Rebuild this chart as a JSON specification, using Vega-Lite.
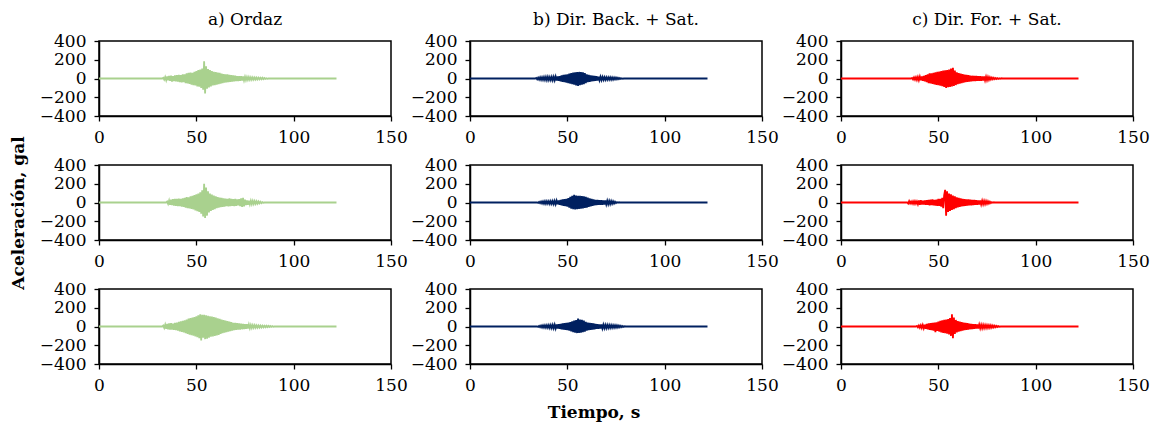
{
"$schema":"https://vega.github.io/schema/vega-lite/v6.json",
"padding":{"left":10,"top":11,"right":5,"bottom":2},
"bounds":"flush",
"config":{"font":"DejaVu Serif","view":{"stroke":"black","strokeWidth":1.5},
"axis":{"grid":false,"domainColor":"black","domainWidth":1.5,"tickColor":"black","tickWidth":1.3,"tickSize":5,"labelColor":"black","labelFont":"DejaVu Serif","labelFontSize":17,"labelFlush":false,"labelOverlap":false,"labelPadding":8},
"header":{"labelFont":"DejaVu Serif","titleFont":"DejaVu Serif","labelColor":"black","titleColor":"black"}},
"data":{"values":[
{"c":"a","r":1,"t":0,"a":0},{"c":"a","r":1,"t":32.5,"a":0},{"c":"a","r":1,"t":33,"a":8},{"c":"a","r":1,"t":33.5,"a":-12},{"c":"a","r":1,"t":34,"a":15},{"c":"a","r":1,"t":34.5,"a":-18},{"c":"a","r":1,"t":35,"a":22},{"c":"a","r":1,"t":35.5,"a":-20},{"c":"a","r":1,"t":36,"a":28},{"c":"a","r":1,"t":36.5,"a":-25},{"c":"a","r":1,"t":37,"a":30},{"c":"a","r":1,"t":37.5,"a":-32},{"c":"a","r":1,"t":38,"a":25},{"c":"a","r":1,"t":38.5,"a":-28},{"c":"a","r":1,"t":39,"a":33},{"c":"a","r":1,"t":39.5,"a":-30},{"c":"a","r":1,"t":40,"a":35},{"c":"a","r":1,"t":40.5,"a":-32},{"c":"a","r":1,"t":41,"a":38},{"c":"a","r":1,"t":41.5,"a":-40},{"c":"a","r":1,"t":42,"a":35},{"c":"a","r":1,"t":42.5,"a":-42},{"c":"a","r":1,"t":43,"a":45},{"c":"a","r":1,"t":43.5,"a":-40},{"c":"a","r":1,"t":44,"a":45},{"c":"a","r":1,"t":44.5,"a":-50},{"c":"a","r":1,"t":45,"a":55},{"c":"a","r":1,"t":45.5,"a":-52},{"c":"a","r":1,"t":46,"a":60},{"c":"a","r":1,"t":46.5,"a":-58},{"c":"a","r":1,"t":47,"a":62},{"c":"a","r":1,"t":47.5,"a":-65},{"c":"a","r":1,"t":48,"a":60},{"c":"a","r":1,"t":48.5,"a":-70},{"c":"a","r":1,"t":49,"a":72},{"c":"a","r":1,"t":49.5,"a":-75},{"c":"a","r":1,"t":50,"a":80},{"c":"a","r":1,"t":50.5,"a":-85},{"c":"a","r":1,"t":51,"a":90},{"c":"a","r":1,"t":51.5,"a":-88},{"c":"a","r":1,"t":52,"a":95},{"c":"a","r":1,"t":52.5,"a":-100},{"c":"a","r":1,"t":53,"a":105},{"c":"a","r":1,"t":53.5,"a":-120},{"c":"a","r":1,"t":54,"a":185},{"c":"a","r":1,"t":54.5,"a":-160},{"c":"a","r":1,"t":55,"a":130},{"c":"a","r":1,"t":55.5,"a":-110},{"c":"a","r":1,"t":56,"a":100},{"c":"a","r":1,"t":56.5,"a":-95},{"c":"a","r":1,"t":57,"a":90},{"c":"a","r":1,"t":57.5,"a":-85},{"c":"a","r":1,"t":58,"a":80},{"c":"a","r":1,"t":58.5,"a":-75},{"c":"a","r":1,"t":59,"a":72},{"c":"a","r":1,"t":59.5,"a":-70},{"c":"a","r":1,"t":60,"a":68},{"c":"a","r":1,"t":60.5,"a":-65},{"c":"a","r":1,"t":61,"a":62},{"c":"a","r":1,"t":61.5,"a":-60},{"c":"a","r":1,"t":62,"a":60},{"c":"a","r":1,"t":62.5,"a":-55},{"c":"a","r":1,"t":63,"a":52},{"c":"a","r":1,"t":63.5,"a":-50},{"c":"a","r":1,"t":64,"a":48},{"c":"a","r":1,"t":64.5,"a":-45},{"c":"a","r":1,"t":65,"a":45},{"c":"a","r":1,"t":65.5,"a":-42},{"c":"a","r":1,"t":66,"a":45},{"c":"a","r":1,"t":66.5,"a":-40},{"c":"a","r":1,"t":67,"a":38},{"c":"a","r":1,"t":67.5,"a":-36},{"c":"a","r":1,"t":68,"a":35},{"c":"a","r":1,"t":68.5,"a":-33},{"c":"a","r":1,"t":69,"a":32},{"c":"a","r":1,"t":69.5,"a":-30},{"c":"a","r":1,"t":70,"a":30},{"c":"a","r":1,"t":70.5,"a":-28},{"c":"a","r":1,"t":71,"a":26},{"c":"a","r":1,"t":71.5,"a":-27},{"c":"a","r":1,"t":72,"a":25},{"c":"a","r":1,"t":72.5,"a":-24},{"c":"a","r":1,"t":73,"a":24},{"c":"a","r":1,"t":73.5,"a":-22},{"c":"a","r":1,"t":74,"a":22},{"c":"a","r":1,"t":74.5,"a":-20},{"c":"a","r":1,"t":75,"a":18},{"c":"a","r":1,"t":75.5,"a":-17},{"c":"a","r":1,"t":76,"a":15},{"c":"a","r":1,"t":76.5,"a":-15},{"c":"a","r":1,"t":77,"a":14},{"c":"a","r":1,"t":77.5,"a":-13},{"c":"a","r":1,"t":78,"a":13},{"c":"a","r":1,"t":78.5,"a":-12},{"c":"a","r":1,"t":79,"a":12},{"c":"a","r":1,"t":79.5,"a":-11},{"c":"a","r":1,"t":80,"a":11},{"c":"a","r":1,"t":80.5,"a":-10},{"c":"a","r":1,"t":81,"a":10},{"c":"a","r":1,"t":81.5,"a":-9},{"c":"a","r":1,"t":82,"a":9},{"c":"a","r":1,"t":82.5,"a":-8},{"c":"a","r":1,"t":83,"a":8},{"c":"a","r":1,"t":83.5,"a":-7},{"c":"a","r":1,"t":84,"a":7},{"c":"a","r":1,"t":84.5,"a":-6},{"c":"a","r":1,"t":85,"a":5},{"c":"a","r":1,"t":85.5,"a":-4},{"c":"a","r":1,"t":86,"a":3},{"c":"a","r":1,"t":86.5,"a":-2},{"c":"a","r":1,"t":87,"a":0},{"c":"a","r":1,"t":122,"a":0},
{"c":"a","r":2,"t":0,"a":0},{"c":"a","r":2,"t":34.5,"a":0},{"c":"a","r":2,"t":35,"a":10},{"c":"a","r":2,"t":35.5,"a":-15},{"c":"a","r":2,"t":36,"a":20},{"c":"a","r":2,"t":36.5,"a":-25},{"c":"a","r":2,"t":37,"a":30},{"c":"a","r":2,"t":37.5,"a":-28},{"c":"a","r":2,"t":38,"a":35},{"c":"a","r":2,"t":38.5,"a":-32},{"c":"a","r":2,"t":39,"a":38},{"c":"a","r":2,"t":39.5,"a":-36},{"c":"a","r":2,"t":40,"a":40},{"c":"a","r":2,"t":40.5,"a":-38},{"c":"a","r":2,"t":41,"a":42},{"c":"a","r":2,"t":41.5,"a":-40},{"c":"a","r":2,"t":42,"a":38},{"c":"a","r":2,"t":42.5,"a":-44},{"c":"a","r":2,"t":43,"a":45},{"c":"a","r":2,"t":43.5,"a":-48},{"c":"a","r":2,"t":44,"a":50},{"c":"a","r":2,"t":44.5,"a":-55},{"c":"a","r":2,"t":45,"a":58},{"c":"a","r":2,"t":45.5,"a":-60},{"c":"a","r":2,"t":46,"a":55},{"c":"a","r":2,"t":46.5,"a":-62},{"c":"a","r":2,"t":47,"a":65},{"c":"a","r":2,"t":47.5,"a":-68},{"c":"a","r":2,"t":48,"a":72},{"c":"a","r":2,"t":48.5,"a":-75},{"c":"a","r":2,"t":49,"a":80},{"c":"a","r":2,"t":49.5,"a":-85},{"c":"a","r":2,"t":50,"a":88},{"c":"a","r":2,"t":50.5,"a":-92},{"c":"a","r":2,"t":51,"a":95},{"c":"a","r":2,"t":51.5,"a":-100},{"c":"a","r":2,"t":52,"a":110},{"c":"a","r":2,"t":52.5,"a":-120},{"c":"a","r":2,"t":53,"a":130},{"c":"a","r":2,"t":53.5,"a":-150},{"c":"a","r":2,"t":54,"a":200},{"c":"a","r":2,"t":54.5,"a":-165},{"c":"a","r":2,"t":55,"a":160},{"c":"a","r":2,"t":55.5,"a":-140},{"c":"a","r":2,"t":56,"a":120},{"c":"a","r":2,"t":56.5,"a":-105},{"c":"a","r":2,"t":57,"a":95},{"c":"a","r":2,"t":57.5,"a":-90},{"c":"a","r":2,"t":58,"a":85},{"c":"a","r":2,"t":58.5,"a":-80},{"c":"a","r":2,"t":59,"a":75},{"c":"a","r":2,"t":59.5,"a":-70},{"c":"a","r":2,"t":60,"a":65},{"c":"a","r":2,"t":60.5,"a":-60},{"c":"a","r":2,"t":61,"a":58},{"c":"a","r":2,"t":61.5,"a":-55},{"c":"a","r":2,"t":62,"a":52},{"c":"a","r":2,"t":62.5,"a":-50},{"c":"a","r":2,"t":63,"a":50},{"c":"a","r":2,"t":63.5,"a":-48},{"c":"a","r":2,"t":64,"a":45},{"c":"a","r":2,"t":64.5,"a":-45},{"c":"a","r":2,"t":65,"a":42},{"c":"a","r":2,"t":65.5,"a":-40},{"c":"a","r":2,"t":66,"a":40},{"c":"a","r":2,"t":66.5,"a":-42},{"c":"a","r":2,"t":67,"a":45},{"c":"a","r":2,"t":67.5,"a":-40},{"c":"a","r":2,"t":68,"a":38},{"c":"a","r":2,"t":68.5,"a":-36},{"c":"a","r":2,"t":69,"a":35},{"c":"a","r":2,"t":69.5,"a":-38},{"c":"a","r":2,"t":70,"a":40},{"c":"a","r":2,"t":70.5,"a":-35},{"c":"a","r":2,"t":71,"a":32},{"c":"a","r":2,"t":71.5,"a":-30},{"c":"a","r":2,"t":72,"a":35},{"c":"a","r":2,"t":72.5,"a":-40},{"c":"a","r":2,"t":73,"a":45},{"c":"a","r":2,"t":73.5,"a":-48},{"c":"a","r":2,"t":74,"a":50},{"c":"a","r":2,"t":74.5,"a":-42},{"c":"a","r":2,"t":75,"a":30},{"c":"a","r":2,"t":75.5,"a":-28},{"c":"a","r":2,"t":76,"a":22},{"c":"a","r":2,"t":76.5,"a":-24},{"c":"a","r":2,"t":77,"a":20},{"c":"a","r":2,"t":77.5,"a":-20},{"c":"a","r":2,"t":78,"a":18},{"c":"a","r":2,"t":78.5,"a":-17},{"c":"a","r":2,"t":79,"a":16},{"c":"a","r":2,"t":79.5,"a":-15},{"c":"a","r":2,"t":80,"a":14},{"c":"a","r":2,"t":80.5,"a":-13},{"c":"a","r":2,"t":81,"a":12},{"c":"a","r":2,"t":81.5,"a":-11},{"c":"a","r":2,"t":82,"a":10},{"c":"a","r":2,"t":82.5,"a":-9},{"c":"a","r":2,"t":83,"a":7},{"c":"a","r":2,"t":83.5,"a":-6},{"c":"a","r":2,"t":84,"a":4},{"c":"a","r":2,"t":84.5,"a":-2},{"c":"a","r":2,"t":85,"a":0},{"c":"a","r":2,"t":122,"a":0},
{"c":"a","r":3,"t":0,"a":0},{"c":"a","r":3,"t":32.5,"a":0},{"c":"a","r":3,"t":33,"a":10},{"c":"a","r":3,"t":33.5,"a":-15},{"c":"a","r":3,"t":34,"a":20},{"c":"a","r":3,"t":34.5,"a":-24},{"c":"a","r":3,"t":35,"a":28},{"c":"a","r":3,"t":35.5,"a":-30},{"c":"a","r":3,"t":36,"a":32},{"c":"a","r":3,"t":36.5,"a":-34},{"c":"a","r":3,"t":37,"a":35},{"c":"a","r":3,"t":37.5,"a":-33},{"c":"a","r":3,"t":38,"a":30},{"c":"a","r":3,"t":38.5,"a":-35},{"c":"a","r":3,"t":39,"a":38},{"c":"a","r":3,"t":39.5,"a":-40},{"c":"a","r":3,"t":40,"a":42},{"c":"a","r":3,"t":40.5,"a":-45},{"c":"a","r":3,"t":41,"a":50},{"c":"a","r":3,"t":41.5,"a":-52},{"c":"a","r":3,"t":42,"a":55},{"c":"a","r":3,"t":42.5,"a":-58},{"c":"a","r":3,"t":43,"a":60},{"c":"a","r":3,"t":43.5,"a":-62},{"c":"a","r":3,"t":44,"a":65},{"c":"a","r":3,"t":44.5,"a":-70},{"c":"a","r":3,"t":45,"a":75},{"c":"a","r":3,"t":45.5,"a":-80},{"c":"a","r":3,"t":46,"a":85},{"c":"a","r":3,"t":46.5,"a":-88},{"c":"a","r":3,"t":47,"a":90},{"c":"a","r":3,"t":47.5,"a":-92},{"c":"a","r":3,"t":48,"a":95},{"c":"a","r":3,"t":48.5,"a":-98},{"c":"a","r":3,"t":49,"a":100},{"c":"a","r":3,"t":49.5,"a":-105},{"c":"a","r":3,"t":50,"a":110},{"c":"a","r":3,"t":50.5,"a":-115},{"c":"a","r":3,"t":51,"a":120},{"c":"a","r":3,"t":51.5,"a":-125},{"c":"a","r":3,"t":52,"a":130},{"c":"a","r":3,"t":52.5,"a":-150},{"c":"a","r":3,"t":53,"a":125},{"c":"a","r":3,"t":53.5,"a":-120},{"c":"a","r":3,"t":54,"a":125},{"c":"a","r":3,"t":54.5,"a":-135},{"c":"a","r":3,"t":55,"a":120},{"c":"a","r":3,"t":55.5,"a":-130},{"c":"a","r":3,"t":56,"a":115},{"c":"a","r":3,"t":56.5,"a":-120},{"c":"a","r":3,"t":57,"a":110},{"c":"a","r":3,"t":57.5,"a":-110},{"c":"a","r":3,"t":58,"a":105},{"c":"a","r":3,"t":58.5,"a":-105},{"c":"a","r":3,"t":59,"a":100},{"c":"a","r":3,"t":59.5,"a":-100},{"c":"a","r":3,"t":60,"a":95},{"c":"a","r":3,"t":60.5,"a":-95},{"c":"a","r":3,"t":61,"a":88},{"c":"a","r":3,"t":61.5,"a":-90},{"c":"a","r":3,"t":62,"a":82},{"c":"a","r":3,"t":62.5,"a":-80},{"c":"a","r":3,"t":63,"a":75},{"c":"a","r":3,"t":63.5,"a":-72},{"c":"a","r":3,"t":64,"a":68},{"c":"a","r":3,"t":64.5,"a":-65},{"c":"a","r":3,"t":65,"a":62},{"c":"a","r":3,"t":65.5,"a":-60},{"c":"a","r":3,"t":66,"a":58},{"c":"a","r":3,"t":66.5,"a":-55},{"c":"a","r":3,"t":67,"a":52},{"c":"a","r":3,"t":67.5,"a":-50},{"c":"a","r":3,"t":68,"a":48},{"c":"a","r":3,"t":68.5,"a":-45},{"c":"a","r":3,"t":69,"a":40},{"c":"a","r":3,"t":69.5,"a":-40},{"c":"a","r":3,"t":70,"a":38},{"c":"a","r":3,"t":70.5,"a":-36},{"c":"a","r":3,"t":71,"a":35},{"c":"a","r":3,"t":71.5,"a":-34},{"c":"a","r":3,"t":72,"a":33},{"c":"a","r":3,"t":72.5,"a":-32},{"c":"a","r":3,"t":73,"a":30},{"c":"a","r":3,"t":73.5,"a":-29},{"c":"a","r":3,"t":74,"a":28},{"c":"a","r":3,"t":74.5,"a":-27},{"c":"a","r":3,"t":75,"a":26},{"c":"a","r":3,"t":75.5,"a":-25},{"c":"a","r":3,"t":76,"a":24},{"c":"a","r":3,"t":76.5,"a":-22},{"c":"a","r":3,"t":77,"a":20},{"c":"a","r":3,"t":77.5,"a":-18},{"c":"a","r":3,"t":78,"a":16},{"c":"a","r":3,"t":78.5,"a":-15},{"c":"a","r":3,"t":79,"a":14},{"c":"a","r":3,"t":79.5,"a":-14},{"c":"a","r":3,"t":80,"a":13},{"c":"a","r":3,"t":80.5,"a":-12},{"c":"a","r":3,"t":81,"a":12},{"c":"a","r":3,"t":81.5,"a":-11},{"c":"a","r":3,"t":82,"a":11},{"c":"a","r":3,"t":82.5,"a":-10},{"c":"a","r":3,"t":83,"a":10},{"c":"a","r":3,"t":83.5,"a":-9},{"c":"a","r":3,"t":84,"a":9},{"c":"a","r":3,"t":84.5,"a":-8},{"c":"a","r":3,"t":85,"a":8},{"c":"a","r":3,"t":85.5,"a":-7},{"c":"a","r":3,"t":86,"a":7},{"c":"a","r":3,"t":86.5,"a":-6},{"c":"a","r":3,"t":87,"a":6},{"c":"a","r":3,"t":87.5,"a":-5},{"c":"a","r":3,"t":88,"a":5},{"c":"a","r":3,"t":88.5,"a":-4},{"c":"a","r":3,"t":89,"a":4},{"c":"a","r":3,"t":89.5,"a":-2},{"c":"a","r":3,"t":90,"a":0},{"c":"a","r":3,"t":122,"a":0},
{"c":"b","r":1,"t":0,"a":0},{"c":"b","r":1,"t":33.5,"a":0},{"c":"b","r":1,"t":34,"a":6},{"c":"b","r":1,"t":34.5,"a":-8},{"c":"b","r":1,"t":35,"a":10},{"c":"b","r":1,"t":35.5,"a":-11},{"c":"b","r":1,"t":36,"a":12},{"c":"b","r":1,"t":36.5,"a":-13},{"c":"b","r":1,"t":37,"a":14},{"c":"b","r":1,"t":37.5,"a":-14},{"c":"b","r":1,"t":38,"a":15},{"c":"b","r":1,"t":38.5,"a":-16},{"c":"b","r":1,"t":39,"a":16},{"c":"b","r":1,"t":39.5,"a":-17},{"c":"b","r":1,"t":40,"a":18},{"c":"b","r":1,"t":40.5,"a":-16},{"c":"b","r":1,"t":41,"a":15},{"c":"b","r":1,"t":41.5,"a":-16},{"c":"b","r":1,"t":42,"a":17},{"c":"b","r":1,"t":42.5,"a":-18},{"c":"b","r":1,"t":43,"a":18},{"c":"b","r":1,"t":43.5,"a":-19},{"c":"b","r":1,"t":44,"a":20},{"c":"b","r":1,"t":44.5,"a":-21},{"c":"b","r":1,"t":45,"a":22},{"c":"b","r":1,"t":45.5,"a":-24},{"c":"b","r":1,"t":46,"a":25},{"c":"b","r":1,"t":46.5,"a":-30},{"c":"b","r":1,"t":47,"a":32},{"c":"b","r":1,"t":47.5,"a":-35},{"c":"b","r":1,"t":48,"a":38},{"c":"b","r":1,"t":48.5,"a":-40},{"c":"b","r":1,"t":49,"a":42},{"c":"b","r":1,"t":49.5,"a":-45},{"c":"b","r":1,"t":50,"a":45},{"c":"b","r":1,"t":50.5,"a":-50},{"c":"b","r":1,"t":51,"a":52},{"c":"b","r":1,"t":51.5,"a":-55},{"c":"b","r":1,"t":52,"a":58},{"c":"b","r":1,"t":52.5,"a":-60},{"c":"b","r":1,"t":53,"a":62},{"c":"b","r":1,"t":53.5,"a":-65},{"c":"b","r":1,"t":54,"a":65},{"c":"b","r":1,"t":54.5,"a":-75},{"c":"b","r":1,"t":55,"a":68},{"c":"b","r":1,"t":55.5,"a":-80},{"c":"b","r":1,"t":56,"a":70},{"c":"b","r":1,"t":56.5,"a":-70},{"c":"b","r":1,"t":57,"a":68},{"c":"b","r":1,"t":57.5,"a":-65},{"c":"b","r":1,"t":58,"a":66},{"c":"b","r":1,"t":58.5,"a":-60},{"c":"b","r":1,"t":59,"a":58},{"c":"b","r":1,"t":59.5,"a":-50},{"c":"b","r":1,"t":60,"a":45},{"c":"b","r":1,"t":60.5,"a":-40},{"c":"b","r":1,"t":61,"a":38},{"c":"b","r":1,"t":61.5,"a":-35},{"c":"b","r":1,"t":62,"a":32},{"c":"b","r":1,"t":62.5,"a":-30},{"c":"b","r":1,"t":63,"a":30},{"c":"b","r":1,"t":63.5,"a":-28},{"c":"b","r":1,"t":64,"a":28},{"c":"b","r":1,"t":64.5,"a":-25},{"c":"b","r":1,"t":65,"a":25},{"c":"b","r":1,"t":65.5,"a":-22},{"c":"b","r":1,"t":66,"a":20},{"c":"b","r":1,"t":66.5,"a":-19},{"c":"b","r":1,"t":67,"a":18},{"c":"b","r":1,"t":67.5,"a":-17},{"c":"b","r":1,"t":68,"a":16},{"c":"b","r":1,"t":68.5,"a":-15},{"c":"b","r":1,"t":69,"a":15},{"c":"b","r":1,"t":69.5,"a":-14},{"c":"b","r":1,"t":70,"a":14},{"c":"b","r":1,"t":70.5,"a":-13},{"c":"b","r":1,"t":71,"a":13},{"c":"b","r":1,"t":71.5,"a":-12},{"c":"b","r":1,"t":72,"a":12},{"c":"b","r":1,"t":72.5,"a":-12},{"c":"b","r":1,"t":73,"a":12},{"c":"b","r":1,"t":73.5,"a":-11},{"c":"b","r":1,"t":74,"a":10},{"c":"b","r":1,"t":74.5,"a":-10},{"c":"b","r":1,"t":75,"a":9},{"c":"b","r":1,"t":75.5,"a":-8},{"c":"b","r":1,"t":76,"a":7},{"c":"b","r":1,"t":76.5,"a":-6},{"c":"b","r":1,"t":77,"a":5},{"c":"b","r":1,"t":77.5,"a":-4},{"c":"b","r":1,"t":78,"a":3},{"c":"b","r":1,"t":78.5,"a":-2},{"c":"b","r":1,"t":79,"a":0},{"c":"b","r":1,"t":122,"a":0},
{"c":"b","r":2,"t":0,"a":0},{"c":"b","r":2,"t":34.5,"a":0},{"c":"b","r":2,"t":35,"a":-5},{"c":"b","r":2,"t":35.5,"a":6},{"c":"b","r":2,"t":36,"a":-8},{"c":"b","r":2,"t":36.5,"a":9},{"c":"b","r":2,"t":37,"a":-10},{"c":"b","r":2,"t":37.5,"a":11},{"c":"b","r":2,"t":38,"a":-12},{"c":"b","r":2,"t":38.5,"a":13},{"c":"b","r":2,"t":39,"a":-14},{"c":"b","r":2,"t":39.5,"a":13},{"c":"b","r":2,"t":40,"a":-12},{"c":"b","r":2,"t":40.5,"a":14},{"c":"b","r":2,"t":41,"a":-15},{"c":"b","r":2,"t":41.5,"a":15},{"c":"b","r":2,"t":42,"a":-14},{"c":"b","r":2,"t":42.5,"a":15},{"c":"b","r":2,"t":43,"a":-16},{"c":"b","r":2,"t":43.5,"a":17},{"c":"b","r":2,"t":44,"a":-18},{"c":"b","r":2,"t":44.5,"a":19},{"c":"b","r":2,"t":45,"a":-20},{"c":"b","r":2,"t":45.5,"a":22},{"c":"b","r":2,"t":46,"a":-25},{"c":"b","r":2,"t":46.5,"a":28},{"c":"b","r":2,"t":47,"a":-30},{"c":"b","r":2,"t":47.5,"a":32},{"c":"b","r":2,"t":48,"a":-35},{"c":"b","r":2,"t":48.5,"a":35},{"c":"b","r":2,"t":49,"a":-38},{"c":"b","r":2,"t":49.5,"a":40},{"c":"b","r":2,"t":50,"a":-45},{"c":"b","r":2,"t":50.5,"a":48},{"c":"b","r":2,"t":51,"a":-55},{"c":"b","r":2,"t":51.5,"a":60},{"c":"b","r":2,"t":52,"a":-65},{"c":"b","r":2,"t":52.5,"a":70},{"c":"b","r":2,"t":53,"a":-72},{"c":"b","r":2,"t":53.5,"a":82},{"c":"b","r":2,"t":54,"a":-75},{"c":"b","r":2,"t":54.5,"a":75},{"c":"b","r":2,"t":55,"a":-70},{"c":"b","r":2,"t":55.5,"a":72},{"c":"b","r":2,"t":56,"a":-68},{"c":"b","r":2,"t":56.5,"a":70},{"c":"b","r":2,"t":57,"a":-65},{"c":"b","r":2,"t":57.5,"a":68},{"c":"b","r":2,"t":58,"a":-62},{"c":"b","r":2,"t":58.5,"a":65},{"c":"b","r":2,"t":59,"a":-58},{"c":"b","r":2,"t":59.5,"a":60},{"c":"b","r":2,"t":60,"a":-55},{"c":"b","r":2,"t":60.5,"a":52},{"c":"b","r":2,"t":61,"a":-48},{"c":"b","r":2,"t":61.5,"a":45},{"c":"b","r":2,"t":62,"a":-42},{"c":"b","r":2,"t":62.5,"a":40},{"c":"b","r":2,"t":63,"a":-35},{"c":"b","r":2,"t":63.5,"a":32},{"c":"b","r":2,"t":64,"a":-30},{"c":"b","r":2,"t":64.5,"a":28},{"c":"b","r":2,"t":65,"a":-28},{"c":"b","r":2,"t":65.5,"a":27},{"c":"b","r":2,"t":66,"a":-26},{"c":"b","r":2,"t":66.5,"a":26},{"c":"b","r":2,"t":67,"a":-25},{"c":"b","r":2,"t":67.5,"a":24},{"c":"b","r":2,"t":68,"a":-24},{"c":"b","r":2,"t":68.5,"a":23},{"c":"b","r":2,"t":69,"a":-22},{"c":"b","r":2,"t":69.5,"a":21},{"c":"b","r":2,"t":70,"a":-20},{"c":"b","r":2,"t":70.5,"a":19},{"c":"b","r":2,"t":71,"a":-18},{"c":"b","r":2,"t":71.5,"a":17},{"c":"b","r":2,"t":72,"a":-16},{"c":"b","r":2,"t":72.5,"a":15},{"c":"b","r":2,"t":73,"a":-14},{"c":"b","r":2,"t":73.5,"a":12},{"c":"b","r":2,"t":74,"a":-10},{"c":"b","r":2,"t":74.5,"a":8},{"c":"b","r":2,"t":75,"a":-6},{"c":"b","r":2,"t":75.5,"a":4},{"c":"b","r":2,"t":76,"a":-3},{"c":"b","r":2,"t":76.5,"a":2},{"c":"b","r":2,"t":77,"a":0},{"c":"b","r":2,"t":122,"a":0},
{"c":"b","r":3,"t":0,"a":0},{"c":"b","r":3,"t":34.5,"a":0},{"c":"b","r":3,"t":35,"a":-5},{"c":"b","r":3,"t":35.5,"a":6},{"c":"b","r":3,"t":36,"a":-8},{"c":"b","r":3,"t":36.5,"a":9},{"c":"b","r":3,"t":37,"a":-10},{"c":"b","r":3,"t":37.5,"a":11},{"c":"b","r":3,"t":38,"a":-12},{"c":"b","r":3,"t":38.5,"a":12},{"c":"b","r":3,"t":39,"a":-12},{"c":"b","r":3,"t":39.5,"a":13},{"c":"b","r":3,"t":40,"a":-14},{"c":"b","r":3,"t":40.5,"a":14},{"c":"b","r":3,"t":41,"a":-15},{"c":"b","r":3,"t":41.5,"a":16},{"c":"b","r":3,"t":42,"a":-16},{"c":"b","r":3,"t":42.5,"a":17},{"c":"b","r":3,"t":43,"a":-18},{"c":"b","r":3,"t":43.5,"a":19},{"c":"b","r":3,"t":44,"a":-20},{"c":"b","r":3,"t":44.5,"a":21},{"c":"b","r":3,"t":45,"a":-22},{"c":"b","r":3,"t":45.5,"a":24},{"c":"b","r":3,"t":46,"a":-25},{"c":"b","r":3,"t":46.5,"a":28},{"c":"b","r":3,"t":47,"a":-30},{"c":"b","r":3,"t":47.5,"a":32},{"c":"b","r":3,"t":48,"a":-34},{"c":"b","r":3,"t":48.5,"a":35},{"c":"b","r":3,"t":49,"a":-36},{"c":"b","r":3,"t":49.5,"a":38},{"c":"b","r":3,"t":50,"a":-40},{"c":"b","r":3,"t":50.5,"a":42},{"c":"b","r":3,"t":51,"a":-45},{"c":"b","r":3,"t":51.5,"a":48},{"c":"b","r":3,"t":52,"a":-52},{"c":"b","r":3,"t":52.5,"a":55},{"c":"b","r":3,"t":53,"a":-60},{"c":"b","r":3,"t":53.5,"a":62},{"c":"b","r":3,"t":54,"a":-65},{"c":"b","r":3,"t":54.5,"a":68},{"c":"b","r":3,"t":55,"a":-70},{"c":"b","r":3,"t":55.5,"a":85},{"c":"b","r":3,"t":56,"a":-68},{"c":"b","r":3,"t":56.5,"a":75},{"c":"b","r":3,"t":57,"a":-65},{"c":"b","r":3,"t":57.5,"a":70},{"c":"b","r":3,"t":58,"a":-60},{"c":"b","r":3,"t":58.5,"a":62},{"c":"b","r":3,"t":59,"a":-55},{"c":"b","r":3,"t":59.5,"a":50},{"c":"b","r":3,"t":60,"a":-45},{"c":"b","r":3,"t":60.5,"a":42},{"c":"b","r":3,"t":61,"a":-40},{"c":"b","r":3,"t":61.5,"a":38},{"c":"b","r":3,"t":62,"a":-36},{"c":"b","r":3,"t":62.5,"a":35},{"c":"b","r":3,"t":63,"a":-33},{"c":"b","r":3,"t":63.5,"a":32},{"c":"b","r":3,"t":64,"a":-30},{"c":"b","r":3,"t":64.5,"a":28},{"c":"b","r":3,"t":65,"a":-26},{"c":"b","r":3,"t":65.5,"a":25},{"c":"b","r":3,"t":66,"a":-24},{"c":"b","r":3,"t":66.5,"a":23},{"c":"b","r":3,"t":67,"a":-22},{"c":"b","r":3,"t":67.5,"a":21},{"c":"b","r":3,"t":68,"a":-20},{"c":"b","r":3,"t":68.5,"a":19},{"c":"b","r":3,"t":69,"a":-18},{"c":"b","r":3,"t":69.5,"a":17},{"c":"b","r":3,"t":70,"a":-17},{"c":"b","r":3,"t":70.5,"a":16},{"c":"b","r":3,"t":71,"a":-16},{"c":"b","r":3,"t":71.5,"a":15},{"c":"b","r":3,"t":72,"a":-15},{"c":"b","r":3,"t":72.5,"a":14},{"c":"b","r":3,"t":73,"a":-14},{"c":"b","r":3,"t":73.5,"a":13},{"c":"b","r":3,"t":74,"a":-13},{"c":"b","r":3,"t":74.5,"a":12},{"c":"b","r":3,"t":75,"a":-12},{"c":"b","r":3,"t":75.5,"a":11},{"c":"b","r":3,"t":76,"a":-10},{"c":"b","r":3,"t":76.5,"a":9},{"c":"b","r":3,"t":77,"a":-8},{"c":"b","r":3,"t":77.5,"a":7},{"c":"b","r":3,"t":78,"a":-6},{"c":"b","r":3,"t":78.5,"a":5},{"c":"b","r":3,"t":79,"a":-4},{"c":"b","r":3,"t":79.5,"a":2},{"c":"b","r":3,"t":80,"a":0},{"c":"b","r":3,"t":122,"a":0},
{"c":"c","r":1,"t":0,"a":0},{"c":"c","r":1,"t":36,"a":0},{"c":"c","r":1,"t":36.5,"a":6},{"c":"c","r":1,"t":37,"a":-10},{"c":"c","r":1,"t":37.5,"a":11},{"c":"c","r":1,"t":38,"a":-12},{"c":"c","r":1,"t":38.5,"a":14},{"c":"c","r":1,"t":39,"a":-15},{"c":"c","r":1,"t":39.5,"a":16},{"c":"c","r":1,"t":40,"a":-18},{"c":"c","r":1,"t":40.5,"a":19},{"c":"c","r":1,"t":41,"a":-20},{"c":"c","r":1,"t":41.5,"a":22},{"c":"c","r":1,"t":42,"a":-25},{"c":"c","r":1,"t":42.5,"a":28},{"c":"c","r":1,"t":43,"a":-30},{"c":"c","r":1,"t":43.5,"a":35},{"c":"c","r":1,"t":44,"a":-40},{"c":"c","r":1,"t":44.5,"a":45},{"c":"c","r":1,"t":45,"a":-50},{"c":"c","r":1,"t":45.5,"a":55},{"c":"c","r":1,"t":46,"a":-52},{"c":"c","r":1,"t":46.5,"a":55},{"c":"c","r":1,"t":47,"a":-58},{"c":"c","r":1,"t":47.5,"a":60},{"c":"c","r":1,"t":48,"a":-62},{"c":"c","r":1,"t":48.5,"a":65},{"c":"c","r":1,"t":49,"a":-68},{"c":"c","r":1,"t":49.5,"a":70},{"c":"c","r":1,"t":50,"a":-72},{"c":"c","r":1,"t":50.5,"a":75},{"c":"c","r":1,"t":51,"a":-78},{"c":"c","r":1,"t":51.5,"a":80},{"c":"c","r":1,"t":52,"a":-82},{"c":"c","r":1,"t":52.5,"a":85},{"c":"c","r":1,"t":53,"a":-90},{"c":"c","r":1,"t":53.5,"a":88},{"c":"c","r":1,"t":54,"a":-100},{"c":"c","r":1,"t":54.5,"a":90},{"c":"c","r":1,"t":55,"a":-92},{"c":"c","r":1,"t":55.5,"a":95},{"c":"c","r":1,"t":56,"a":-90},{"c":"c","r":1,"t":56.5,"a":105},{"c":"c","r":1,"t":57,"a":-85},{"c":"c","r":1,"t":57.5,"a":115},{"c":"c","r":1,"t":58,"a":-80},{"c":"c","r":1,"t":58.5,"a":85},{"c":"c","r":1,"t":59,"a":-70},{"c":"c","r":1,"t":59.5,"a":65},{"c":"c","r":1,"t":60,"a":-60},{"c":"c","r":1,"t":60.5,"a":58},{"c":"c","r":1,"t":61,"a":-55},{"c":"c","r":1,"t":61.5,"a":52},{"c":"c","r":1,"t":62,"a":-50},{"c":"c","r":1,"t":62.5,"a":48},{"c":"c","r":1,"t":63,"a":-45},{"c":"c","r":1,"t":63.5,"a":42},{"c":"c","r":1,"t":64,"a":-40},{"c":"c","r":1,"t":64.5,"a":38},{"c":"c","r":1,"t":65,"a":-36},{"c":"c","r":1,"t":65.5,"a":35},{"c":"c","r":1,"t":66,"a":-32},{"c":"c","r":1,"t":66.5,"a":31},{"c":"c","r":1,"t":67,"a":-30},{"c":"c","r":1,"t":67.5,"a":29},{"c":"c","r":1,"t":68,"a":-28},{"c":"c","r":1,"t":68.5,"a":28},{"c":"c","r":1,"t":69,"a":-28},{"c":"c","r":1,"t":69.5,"a":27},{"c":"c","r":1,"t":70,"a":-26},{"c":"c","r":1,"t":70.5,"a":25},{"c":"c","r":1,"t":71,"a":-25},{"c":"c","r":1,"t":71.5,"a":24},{"c":"c","r":1,"t":72,"a":-24},{"c":"c","r":1,"t":72.5,"a":23},{"c":"c","r":1,"t":73,"a":-22},{"c":"c","r":1,"t":73.5,"a":21},{"c":"c","r":1,"t":74,"a":-20},{"c":"c","r":1,"t":74.5,"a":19},{"c":"c","r":1,"t":75,"a":-18},{"c":"c","r":1,"t":75.5,"a":16},{"c":"c","r":1,"t":76,"a":-14},{"c":"c","r":1,"t":76.5,"a":12},{"c":"c","r":1,"t":77,"a":-10},{"c":"c","r":1,"t":77.5,"a":9},{"c":"c","r":1,"t":78,"a":-8},{"c":"c","r":1,"t":78.5,"a":7},{"c":"c","r":1,"t":79,"a":-6},{"c":"c","r":1,"t":79.5,"a":5},{"c":"c","r":1,"t":80,"a":-5},{"c":"c","r":1,"t":80.5,"a":4},{"c":"c","r":1,"t":81,"a":-4},{"c":"c","r":1,"t":81.5,"a":3},{"c":"c","r":1,"t":82,"a":-3},{"c":"c","r":1,"t":82.5,"a":2},{"c":"c","r":1,"t":83,"a":0},{"c":"c","r":1,"t":122,"a":0},
{"c":"c","r":2,"t":0,"a":0},{"c":"c","r":2,"t":34,"a":0},{"c":"c","r":2,"t":34.5,"a":-12},{"c":"c","r":2,"t":35,"a":15},{"c":"c","r":2,"t":35.5,"a":-10},{"c":"c","r":2,"t":36,"a":10},{"c":"c","r":2,"t":36.5,"a":-12},{"c":"c","r":2,"t":37,"a":12},{"c":"c","r":2,"t":37.5,"a":-13},{"c":"c","r":2,"t":38,"a":14},{"c":"c","r":2,"t":38.5,"a":-12},{"c":"c","r":2,"t":39,"a":12},{"c":"c","r":2,"t":39.5,"a":-18},{"c":"c","r":2,"t":40,"a":22},{"c":"c","r":2,"t":40.5,"a":-25},{"c":"c","r":2,"t":41,"a":25},{"c":"c","r":2,"t":41.5,"a":-22},{"c":"c","r":2,"t":42,"a":20},{"c":"c","r":2,"t":42.5,"a":-21},{"c":"c","r":2,"t":43,"a":22},{"c":"c","r":2,"t":43.5,"a":-24},{"c":"c","r":2,"t":44,"a":25},{"c":"c","r":2,"t":44.5,"a":-26},{"c":"c","r":2,"t":45,"a":28},{"c":"c","r":2,"t":45.5,"a":-29},{"c":"c","r":2,"t":46,"a":30},{"c":"c","r":2,"t":46.5,"a":-28},{"c":"c","r":2,"t":47,"a":32},{"c":"c","r":2,"t":47.5,"a":-30},{"c":"c","r":2,"t":48,"a":28},{"c":"c","r":2,"t":48.5,"a":-32},{"c":"c","r":2,"t":49,"a":30},{"c":"c","r":2,"t":49.5,"a":-35},{"c":"c","r":2,"t":50,"a":38},{"c":"c","r":2,"t":50.5,"a":-35},{"c":"c","r":2,"t":51,"a":40},{"c":"c","r":2,"t":51.5,"a":-45},{"c":"c","r":2,"t":52,"a":50},{"c":"c","r":2,"t":52.5,"a":-60},{"c":"c","r":2,"t":53,"a":80},{"c":"c","r":2,"t":53.5,"a":135},{"c":"c","r":2,"t":54,"a":-140},{"c":"c","r":2,"t":54.5,"a":120},{"c":"c","r":2,"t":55,"a":-100},{"c":"c","r":2,"t":55.5,"a":95},{"c":"c","r":2,"t":56,"a":-90},{"c":"c","r":2,"t":56.5,"a":88},{"c":"c","r":2,"t":57,"a":-80},{"c":"c","r":2,"t":57.5,"a":75},{"c":"c","r":2,"t":58,"a":-70},{"c":"c","r":2,"t":58.5,"a":65},{"c":"c","r":2,"t":59,"a":-60},{"c":"c","r":2,"t":59.5,"a":55},{"c":"c","r":2,"t":60,"a":-52},{"c":"c","r":2,"t":60.5,"a":50},{"c":"c","r":2,"t":61,"a":-48},{"c":"c","r":2,"t":61.5,"a":45},{"c":"c","r":2,"t":62,"a":-42},{"c":"c","r":2,"t":62.5,"a":40},{"c":"c","r":2,"t":63,"a":-38},{"c":"c","r":2,"t":63.5,"a":36},{"c":"c","r":2,"t":64,"a":-35},{"c":"c","r":2,"t":64.5,"a":34},{"c":"c","r":2,"t":65,"a":-32},{"c":"c","r":2,"t":65.5,"a":32},{"c":"c","r":2,"t":66,"a":-30},{"c":"c","r":2,"t":66.5,"a":30},{"c":"c","r":2,"t":67,"a":-29},{"c":"c","r":2,"t":67.5,"a":28},{"c":"c","r":2,"t":68,"a":-28},{"c":"c","r":2,"t":68.5,"a":27},{"c":"c","r":2,"t":69,"a":-26},{"c":"c","r":2,"t":69.5,"a":25},{"c":"c","r":2,"t":70,"a":-24},{"c":"c","r":2,"t":70.5,"a":23},{"c":"c","r":2,"t":71,"a":-22},{"c":"c","r":2,"t":71.5,"a":21},{"c":"c","r":2,"t":72,"a":-20},{"c":"c","r":2,"t":72.5,"a":19},{"c":"c","r":2,"t":73,"a":-18},{"c":"c","r":2,"t":73.5,"a":17},{"c":"c","r":2,"t":74,"a":-16},{"c":"c","r":2,"t":74.5,"a":15},{"c":"c","r":2,"t":75,"a":-14},{"c":"c","r":2,"t":75.5,"a":12},{"c":"c","r":2,"t":76,"a":-10},{"c":"c","r":2,"t":76.5,"a":8},{"c":"c","r":2,"t":77,"a":-6},{"c":"c","r":2,"t":77.5,"a":4},{"c":"c","r":2,"t":78,"a":-3},{"c":"c","r":2,"t":78.5,"a":2},{"c":"c","r":2,"t":79,"a":0},{"c":"c","r":2,"t":122,"a":0},
{"c":"c","r":3,"t":0,"a":0},{"c":"c","r":3,"t":38.5,"a":0},{"c":"c","r":3,"t":39,"a":6},{"c":"c","r":3,"t":39.5,"a":-8},{"c":"c","r":3,"t":40,"a":10},{"c":"c","r":3,"t":40.5,"a":-12},{"c":"c","r":3,"t":41,"a":14},{"c":"c","r":3,"t":41.5,"a":-15},{"c":"c","r":3,"t":42,"a":16},{"c":"c","r":3,"t":42.5,"a":-18},{"c":"c","r":3,"t":43,"a":20},{"c":"c","r":3,"t":43.5,"a":-25},{"c":"c","r":3,"t":44,"a":28},{"c":"c","r":3,"t":44.5,"a":-30},{"c":"c","r":3,"t":45,"a":32},{"c":"c","r":3,"t":45.5,"a":-35},{"c":"c","r":3,"t":46,"a":35},{"c":"c","r":3,"t":46.5,"a":-38},{"c":"c","r":3,"t":47,"a":40},{"c":"c","r":3,"t":47.5,"a":-45},{"c":"c","r":3,"t":48,"a":42},{"c":"c","r":3,"t":48.5,"a":-60},{"c":"c","r":3,"t":49,"a":45},{"c":"c","r":3,"t":49.5,"a":-48},{"c":"c","r":3,"t":50,"a":52},{"c":"c","r":3,"t":50.5,"a":-55},{"c":"c","r":3,"t":51,"a":60},{"c":"c","r":3,"t":51.5,"a":-62},{"c":"c","r":3,"t":52,"a":65},{"c":"c","r":3,"t":52.5,"a":-68},{"c":"c","r":3,"t":53,"a":70},{"c":"c","r":3,"t":53.5,"a":-72},{"c":"c","r":3,"t":54,"a":75},{"c":"c","r":3,"t":54.5,"a":-78},{"c":"c","r":3,"t":55,"a":80},{"c":"c","r":3,"t":55.5,"a":-85},{"c":"c","r":3,"t":56,"a":90},{"c":"c","r":3,"t":56.5,"a":-100},{"c":"c","r":3,"t":57,"a":130},{"c":"c","r":3,"t":57.5,"a":-125},{"c":"c","r":3,"t":58,"a":95},{"c":"c","r":3,"t":58.5,"a":-80},{"c":"c","r":3,"t":59,"a":70},{"c":"c","r":3,"t":59.5,"a":-62},{"c":"c","r":3,"t":60,"a":58},{"c":"c","r":3,"t":60.5,"a":-55},{"c":"c","r":3,"t":61,"a":52},{"c":"c","r":3,"t":61.5,"a":-50},{"c":"c","r":3,"t":62,"a":48},{"c":"c","r":3,"t":62.5,"a":-45},{"c":"c","r":3,"t":63,"a":42},{"c":"c","r":3,"t":63.5,"a":-40},{"c":"c","r":3,"t":64,"a":38},{"c":"c","r":3,"t":64.5,"a":-36},{"c":"c","r":3,"t":65,"a":35},{"c":"c","r":3,"t":65.5,"a":-32},{"c":"c","r":3,"t":66,"a":30},{"c":"c","r":3,"t":66.5,"a":-29},{"c":"c","r":3,"t":67,"a":28},{"c":"c","r":3,"t":67.5,"a":-27},{"c":"c","r":3,"t":68,"a":26},{"c":"c","r":3,"t":68.5,"a":-25},{"c":"c","r":3,"t":69,"a":24},{"c":"c","r":3,"t":69.5,"a":-23},{"c":"c","r":3,"t":70,"a":22},{"c":"c","r":3,"t":70.5,"a":-21},{"c":"c","r":3,"t":71,"a":20},{"c":"c","r":3,"t":71.5,"a":-19},{"c":"c","r":3,"t":72,"a":18},{"c":"c","r":3,"t":72.5,"a":-18},{"c":"c","r":3,"t":73,"a":17},{"c":"c","r":3,"t":73.5,"a":-16},{"c":"c","r":3,"t":74,"a":16},{"c":"c","r":3,"t":74.5,"a":-15},{"c":"c","r":3,"t":75,"a":15},{"c":"c","r":3,"t":75.5,"a":-14},{"c":"c","r":3,"t":76,"a":14},{"c":"c","r":3,"t":76.5,"a":-13},{"c":"c","r":3,"t":77,"a":12},{"c":"c","r":3,"t":77.5,"a":-11},{"c":"c","r":3,"t":78,"a":10},{"c":"c","r":3,"t":78.5,"a":-9},{"c":"c","r":3,"t":79,"a":8},{"c":"c","r":3,"t":79.5,"a":-7},{"c":"c","r":3,"t":80,"a":6},{"c":"c","r":3,"t":80.5,"a":-5},{"c":"c","r":3,"t":81,"a":4},{"c":"c","r":3,"t":81.5,"a":-2},{"c":"c","r":3,"t":82,"a":0},{"c":"c","r":3,"t":122,"a":0}
]},
"facet":{
"column":{"field":"c","type":"nominal","title":"Tiempo, s","sort":["a","b","c"],
"header":{"labelExpr":"datum.value == 'a' ? 'a) Ordaz' : datum.value == 'b' ? 'b) Dir. Back. + Sat.' : 'c) Dir. For. + Sat.'","labelOrient":"top","titleOrient":"bottom","labelFontSize":17,"labelPadding":12,"titleFontSize":17,"titleFontWeight":"bold","titlePadding":31}},
"row":{"field":"r","type":"ordinal","title":"Aceleración, gal","header":{"labels":false,"titleOrient":"left","titleFontSize":17,"titleFontWeight":"bold","titlePadding":61}}
},
"spacing":{"row":49,"column":79},
"resolve":{"axis":{"x":"independent","y":"independent"}},
"spec":{
"width":292,"height":75,
"mark":{"type":"line","strokeWidth":1.8,"clip":true},
"encoding":{
"x":{"field":"t","type":"quantitative","scale":{"domain":[0,150],"nice":false},"axis":{"values":[0,50,100,150],"title":null}},
"y":{"field":"a","type":"quantitative","scale":{"domain":[-400,400],"nice":false},"axis":{"values":[-400,-200,0,200,400],"title":null}},
"color":{"field":"c","type":"nominal","scale":{"domain":["a","b","c"],"range":["#a9d18e","#002060","#ff0000"]},"legend":null}
}
}
}
